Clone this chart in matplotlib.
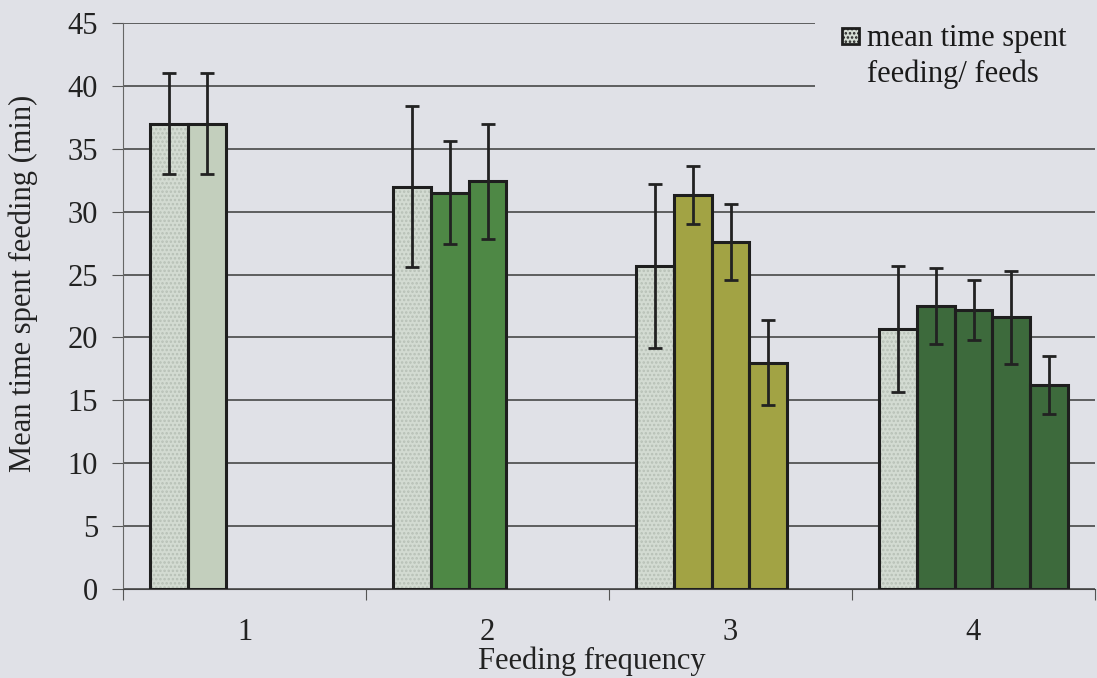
import numpy as np
import matplotlib.pyplot as plt
from matplotlib.patches import Rectangle

# feeding frequency groups and the bars inside each group
freq_labels = ['1', '2', '3', '4']
means = [
    [37.0, 37.0],
    [32.0, 31.5, 32.4],
    [25.7, 31.3, 27.6, 18.0],
    [20.7, 22.5, 22.2, 21.6, 16.2],
]
errs = [
    [4.0, 4.0],
    [6.4, 4.1, 4.6],
    [6.5, 2.3, 3.0, 3.4],
    [5.0, 3.0, 2.4, 3.7, 2.3],
]
legend_label = 'mean time spent\nfeeding/ feeds'

bg = '#e0e1e7'
light = '#d3dbd2'
group_cols = ['#c3cfbd', '#4e8845', '#a2a344', '#3d6a3c']
ink = '#1e1e1e'
fs = 22

plt.rcParams['font.family'] = ['Liberation Serif', 'DejaVu Serif']
plt.rcParams['hatch.linewidth'] = 1.2

fig = plt.figure(figsize=(10.97, 6.78), dpi=100, facecolor=bg)
ax = fig.add_axes([123 / 1097, 1 - 589 / 678, 972 / 1097, 566 / 678])
ax.set_facecolor(bg)

w = 0.1556
for i, (m, e) in enumerate(zip(means, errs)):
    n = len(m)
    x = i + 1 + (np.arange(n) - 2) * w
    # first bar of every group: pale dotted fill
    ax.bar(x[0], m[0], width=w, color=light, edgecolor='#b7c0b6',
           hatch='....', linewidth=0, zorder=3)
    ax.bar(x[1:], m[1:], width=w, color=group_cols[i], linewidth=0, zorder=3)
    ax.bar(x, m, width=w, fill=False, edgecolor=ink, linewidth=2.2, zorder=3.5)
    ax.errorbar(x, m, yerr=e, fmt='none', ecolor='#222222', elinewidth=2,
                capsize=5, capthick=2, zorder=4)

ax.set_xlim(0.5, 4.5)
ax.set_ylim(0, 45)
ax.set_yticks(np.arange(0, 46, 5))
ax.yaxis.grid(True, color='#3a3a3a', linewidth=1.1, zorder=1)
ax.set_axisbelow(True)

ax.set_xticks(np.arange(0.5, 4.6, 1))
ax.set_xticklabels([])
ax.set_xticks(np.arange(1, 5), minor=True)
ax.set_xticklabels(freq_labels, minor=True)
ax.tick_params(axis='x', which='minor', length=0, pad=21, labelsize=fs,
               labelcolor='#222222')
ax.tick_params(axis='x', which='major', length=8, color='#555555')
ax.tick_params(axis='y', length=8, color='#555555', pad=10, labelsize=fs,
               labelcolor='#222222')

for s in ['top', 'right']:
    ax.spines[s].set_visible(False)
ax.spines['left'].set_color('#666666')
ax.spines['bottom'].set_color('#444444')

ax.set_xlabel('Feeding frequency', fontsize=fs, color='#222222')
ax.xaxis.set_label_coords(0.4825, -0.101)
ax.set_ylabel('Mean time spent feeding (min)', fontsize=fs, color='#222222')
ax.yaxis.set_label_coords(-0.087, 0.54)

# legend block: background panel hides the gridlines under it
fig.patches.append(Rectangle((815 / 1097, 1 - 130 / 678), 282 / 1097, 130 / 678,
                             transform=fig.transFigure, facecolor=bg,
                             edgecolor='none', zorder=5))
fig.patches.append(Rectangle((842 / 1097, 1 - 44 / 678), 17 / 1097, 16 / 678,
                             transform=fig.transFigure, facecolor=light,
                             edgecolor=ink, linewidth=2, hatch='....', zorder=6))
fig.text(867 / 1097, 1 - 24 / 678, legend_label, fontsize=fs, va='top',
         ha='left', linespacing=1.3, color='#1a1a1a', zorder=6)

fig.savefig('out.png', dpi=100, facecolor=bg)
